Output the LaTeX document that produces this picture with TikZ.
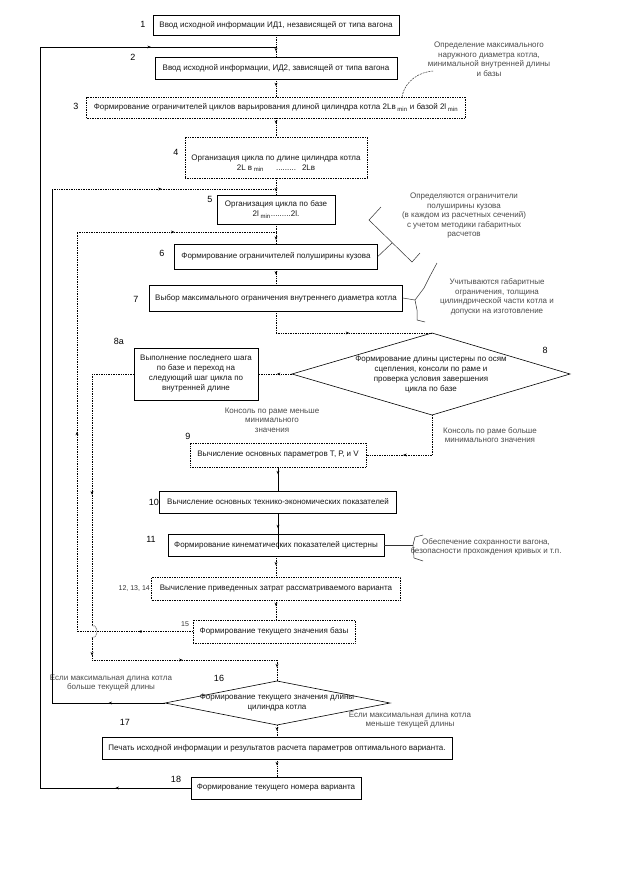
\documentclass[tikz,border=0pt]{standalone}
\usepackage{fontspec}
\setmainfont{Liberation Sans}
\usetikzlibrary{arrows.meta,decorations.markings}
\tikzset{
  txt/.style={font=\fontsize{8}{10}\selectfont, align=center, inner sep=0pt, text=black!90},
  sbox/.style={txt, draw=black, line width=0.6pt, rectangle},
  dbox/.style={txt, draw=black, line width=0.7pt, densely dotted, rectangle},
  num/.style={font=\fontsize{9}{10}\selectfont, inner sep=0pt},
  smallnum/.style={font=\fontsize{7}{8}\selectfont, inner sep=0pt, text=black!80},
  note/.style={font=\fontsize{8}{9.5}\selectfont, align=center, inner sep=0pt, text=black!70},
  ln/.style={line width=0.6pt},
  dl/.style={line width=0.7pt, densely dotted},
  thinl/.style={line width=0.5pt, black!80},
  ma/.style={postaction={solid, decorate, decoration={markings, mark=at position #1 with {\arrow{Stealth[length=3.5pt,width=2.8pt]}}}}},
  ma/.default=0.5,
}
\begin{document}
\begin{tikzpicture}[x=1pt,y=-1pt]
\useasboundingbox (0,0) rectangle (622,887);
\fill[white] (0,0) rectangle (622,887);

% boxes
\node[sbox, minimum width=246, minimum height=20] (b1) at (276,25) {Ввод исходной информации ИД1, независящей от типа вагона};
\node[sbox, minimum width=242, minimum height=22] (b2) at (276,68) {Ввод исходной информации, ИД2, зависящей от типа вагона};
\node[dbox, minimum width=379, minimum height=21] (b3) at (276,107.5) {Формирование ограничителей циклов варьирования длиной цилиндра котла 2Lв\textsubscript{ min} и базой 2l\textsubscript{ min}};
\node[dbox, minimum width=182, minimum height=41] (b4) at (276,157.5) {};
\node[txt] (b4t) at (276,163) {Организация цикла по длине цилиндра котла\\2L в\textsubscript{ min}\hspace{12pt}.........\hspace{6pt}2Lв};
\node[sbox, minimum width=118, minimum height=29] (b5) at (276,209.5) {Организация цикла по базе\\2l\textsubscript{ min}.........2l.};
\node[sbox, minimum width=203, minimum height=25] (b6) at (276,256.5) {Формирование ограничителей полуширины кузова};
\node[sbox, minimum width=253, minimum height=26] (b7) at (276,298) {Выбор максимального ограничения внутреннего диаметра котла};

% diamond 8
\coordinate (d8t) at (432,333);
\coordinate (d8r) at (570,374);
\coordinate (d8b) at (432,415);
\coordinate (d8l) at (292,374);
\draw[ln] (d8t) -- (d8r) -- (d8b) -- (d8l) -- cycle;
\node[txt] (d8) at (431,375) {Формирование длины цистерны по осям\\сцепления, консоли по раме и\\проверка условия завершения\\цикла по базе};

\node[sbox, minimum width=124, minimum height=52] (b8a) at (196,374) {Выполнение последнего шага\\по базе и переход на\\следующий шаг цикла по\\внутренней длине};
\node[dbox, minimum width=176, minimum height=24] (b9) at (278,455) {Вычисление основных параметров Т, Р, и V};
\node[sbox, minimum width=237, minimum height=22] (b10) at (278,502) {Вычисление основных технико-экономических показателей};
\node[sbox, minimum width=216, minimum height=22] (b11) at (276,545) {Формирование кинематических показателей цистерны};
\node[dbox, minimum width=249, minimum height=23] (b12) at (276,588.5) {Вычисление приведенных затрат рассматриваемого варианта};
\node[dbox, minimum width=162, minimum height=23] (b15) at (274,631.5) {Формирование текущего значения базы};

% diamond 16
\coordinate (d16t) at (277,681);
\coordinate (d16r) at (390,703);
\coordinate (d16b) at (277,725);
\coordinate (d16l) at (165,703);
\draw[ln] (d16t) -- (d16r) -- (d16b) -- (d16l) -- cycle;
\node[txt] (d16) at (277,703) {Формирование текущего значения длины\\цилиндра котла};

\node[sbox, minimum width=350, minimum height=22] (b17) at (277,748) {Печать исходной информации и результатов расчета параметров оптимального варианта.};
\node[sbox, minimum width=170, minimum height=22] (b18) at (276,788) {Формирование текущего номера варианта};

% numbers
\node[num] (l1) at (143,24) {1};
\node[num] (l2) at (133,57) {2};
\node[num] (l3) at (76,106) {3};
\node[num] (l4) at (176,152) {4};
\node[num] (l5) at (210,199) {5};
\node[num] (l6) at (162,253) {6};
\node[num] (l7) at (136,299) {7};
\node[num] (l8a) at (119,341) {8а};
\node[num] (l8) at (545,350) {8};
\node[num] (l9) at (188,436) {9};
\node[num, anchor=east] (l10) at (159,502) {10};
\node[num] (l11) at (151,539) {11};
\node[smallnum, anchor=east] (l12) at (150,588) {12, 13, 14};
\node[smallnum] (l15) at (185,624) {15};
\node[num] (l16) at (219,678) {16};
\node[num] (l17) at (125,722) {17};
\node[num] (l18) at (176,779) {18};

% notes
\node[note] (n3) at (489,59) {Определение максимального\\наружного диаметра котла,\\минимальной внутренней длины\\и базы};
\node[note] (n6) at (464,216) {Определяются ограничители\\полуширины кузова\\(в каждом из расчетных сечений)\\с учетом методики габаритных\\расчетов};
\node[note] (n7) at (497,297) {Учитываются габаритные\\ограничения, толщина\\цилиндрической части котла и\\допуски на изготовление};
\node[note] (n11) at (486,547) {Обеспечение сохранности вагона,\\безопасности прохождения кривых и т.п.};
\node[note] (e8l) at (272,420) {Консоль по раме меньше\\минимального\\значения};
\node[note] (e8b) at (490,435) {Консоль по раме больше\\минимального значения};
\node[note] (e16l) at (111,683) {Если максимальная длина котла\\больше текущей длины};
\node[note] (e16r) at (410,720) {Если максимальная длина котла\\меньше текущей длины};

% annotation brackets
\draw[thinl, dash pattern=on 2pt off 1pt] (402,97) .. controls (405,80) and (420,72) .. (433,71);
\draw[thinl] (381,207) -- (369,220) -- (412,262) -- (420,253);
\draw[thinl] (b6.east) -- (392,243);
\draw[thinl] (b7.east) -- (415,300);
\draw[thinl] (437,263) -- (430,276) -- (424,288) -- (415,300) -- (417,310) -- (417,320) -- (425,322);
\draw[thinl] (b11.east) -- (413,545);
\draw[thinl] (423,535) -- (415,537) -- (413,545) -- (414,558) -- (423,561);

% coordinates for loops
\coordinate (c40b) at (40,788);
\coordinate (c40t) at (40,47);
\coordinate (j2) at (276,47);
\coordinate (c52b) at (52,703);
\coordinate (c52t) at (52,189);
\coordinate (j5) at (276,189);
\coordinate (c77b) at (77,631.5);
\coordinate (c77t) at (77,232);
\coordinate (j6) at (276,232);
\coordinate (c333) at (276,333);
\coordinate (c92t) at (92,374);
\coordinate (c92j1) at (92,625.5);
\coordinate (c92j2) at (92,637.5);
\coordinate (c92b) at (92,660);
\coordinate (j16) at (277,660);
\coordinate (c455) at (432,455);
\coordinate (b11in) at (278,549);

% connectors
\draw[dl, ma=0.75] (b1.south) -- (b1.south |- b2.north);
\draw[ln, ma=0.5] (b18.west) -- (c40b);
\draw[ln] (c40b) -- (c40t);
\draw[ln, ma=0.47] (c40t) -- (j2);
\draw[dl, ma=0.4] (b2.south) -- (b2.south |- b3.north);
\draw[dl, ma=0.3] (b3.south) -- (b3.south |- b4.north);
\draw[dl, ma=0.8] (b4.south) -- (b4.south |- b5.north);
\draw[ln, ma=0.5] (d16l) -- (c52b);
\draw[ln] (c52b) -- (c52t);
\draw[dl, ma=0.49] (c52t) -- (j5);
\draw[dl, ma=0.8] (b5.south) -- (b5.south |- b6.north);
\draw[dl, ma=0.47] (b15.west) -- (c77b);
\draw[dl, ma=0.5] (c77b) -- (c77t);
\draw[dl, ma=0.49] (c77t) -- (j6);
\draw[dl, ma=0.35] (b6.south) -- (b6.south |- b7.north);
\draw[dl] (b7.south) -- (c333);
\draw[dl, ma=0.47] (c333) -- (d8t);
\draw[dl, ma=0.45] (d8l) -- (d8l -| b8a.east);
\draw[dl] (b8a.west) -- (c92t);
\draw[dl, ma=0.48] (c92t) -- (c92j1);
\draw[dl] (c92j1) .. controls (99,625.5) and (99,637.5) .. (c92j2);
\draw[dl, ma=0.8] (c92j2) -- (c92b);
\draw[dl, ma=0.49] (c92b) -- (j16);
\draw[dl, ma=0.35] (j16) -- (d16t);
\draw[dl] (d8b) -- (c455);
\draw[dl, ma=0.44] (c455) -- (c455 -| b9.east);
\draw[ln, ma=0.3] (b9.south) -- (b9.south |- b10.north);
\draw[ln, ma=0.42] (b10.south) -- (b11in);
\draw[dl, ma=0.45] (b11.south) -- (b11.south |- b12.north);
\draw[dl, ma=0.3] (b12.south) -- (b12.south |- b15.north);
\draw[dl, ma=0.5] (d16b) -- (d16b |- b17.north);
\draw[dl, ma=0.35] (b17.south) -- (b17.south |- b18.north);
\end{tikzpicture}
\end{document}
